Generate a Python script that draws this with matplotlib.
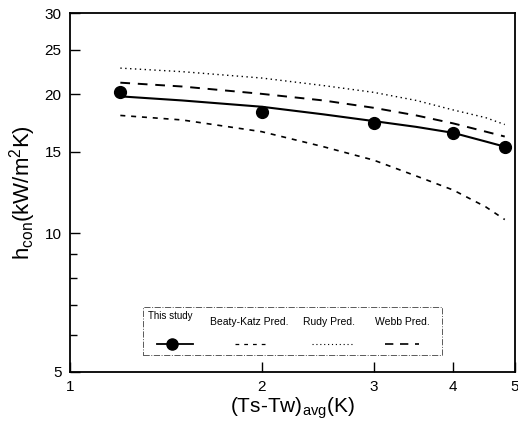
import matplotlib
matplotlib.use('Agg')
import matplotlib.pyplot as plt
from matplotlib.ticker import FixedLocator, NullFormatter, FixedFormatter
from matplotlib.patches import Rectangle

plt.rcParams['font.family'] = ['Liberation Sans', 'DejaVu Sans']
plt.rcParams['mathtext.default'] = 'regular'

# measured points (this study)
x_study = [1.2, 2.0, 3.0, 4.0, 4.83]
h_study = [20.2, 18.3, 17.3, 16.5, 15.4]

# curves
x_pred = [1.2, 1.5, 2.0, 2.5, 3.0, 3.5, 4.0, 4.5, 4.82]
h_fit = [19.8, 19.4, 18.8, 18.1, 17.5, 17.0, 16.5, 15.8, 15.4]
h_beaty = [18.0, 17.6, 16.6, 15.4, 14.4, 13.3, 12.4, 11.4, 10.7]
h_rudy = [22.8, 22.4, 21.7, 20.9, 20.2, 19.4, 18.5, 17.8, 17.2]
h_webb = [21.2, 20.8, 20.05, 19.4, 18.7, 18.0, 17.3, 16.6, 16.2]

xticks = [1, 2, 3, 4, 5]
yticks = [5, 10, 15, 20, 25, 30]
yminor = [6, 7, 8, 9]

fig = plt.figure(figsize=(5.18, 4.25), dpi=100)
ax = fig.add_axes([0.135, 0.125, 0.859, 0.844])

ax.set_xscale('log')
ax.set_yscale('log')
ax.set_xlim(1, 5)
ax.set_ylim(5, 30)

ax.plot(x_pred, h_fit, color='black', lw=1.5)
ax.plot(x_study, h_study, 'o', color='black', ms=8.5)
ax.plot(x_pred, h_beaty, color='black', lw=1.2, dashes=(3, 3.5))
ax.plot(x_pred, h_rudy, color='black', lw=1.0, dashes=(1, 2.5))
ax.plot(x_pred, h_webb, color='black', lw=1.4, dashes=(5, 4))

ax.xaxis.set_major_locator(FixedLocator(xticks))
ax.xaxis.set_major_formatter(FixedFormatter([str(t) for t in xticks]))
ax.xaxis.set_minor_locator(FixedLocator([]))
ax.yaxis.set_major_locator(FixedLocator(yticks))
ax.yaxis.set_major_formatter(FixedFormatter([str(t) for t in yticks]))
ax.yaxis.set_minor_locator(FixedLocator(yminor))
ax.yaxis.set_minor_formatter(NullFormatter())

ax.tick_params(which='major', direction='in', length=7, width=1, labelsize=11, pad=6)
ax.tick_params(which='minor', direction='in', length=5, width=1)
for s in ax.spines.values():
    s.set_linewidth(1.3)

ax.set_xlabel(r'(Ts-Tw)$_{avg}$(K)', fontsize=15, labelpad=1)
ax.set_ylabel(r'h$_{con}$(kW/m$^2$K)', fontsize=16, labelpad=5)

# legend box, labels above handles
tr = ax.transAxes
ax.add_patch(Rectangle((0.164, 0.047), 0.672, 0.134, transform=tr, fill=False,
                       lw=0.7, ls='-.', edgecolor='0.35'))
ax.text(0.176, 0.155, 'This study', transform=tr, fontsize=7, va='center')
ax.text(0.315, 0.138, 'Beaty-Katz Pred.', transform=tr, fontsize=7.5, va='center')
ax.text(0.524, 0.138, 'Rudy Pred.', transform=tr, fontsize=7.5, va='center')
ax.text(0.686, 0.138, 'Webb Pred.', transform=tr, fontsize=7.5, va='center')
hy = 0.078
ax.plot([0.196, 0.276], [hy, hy], color='black', lw=1.3, transform=tr)
ax.plot([0.229], [hy], 'o', color='black', ms=8, transform=tr)
ax.plot([0.371, 0.445], [hy, hy], color='black', lw=0.9, dashes=(3, 4), transform=tr)
ax.plot([0.544, 0.636], [hy, hy], color='black', lw=0.8, dashes=(1, 2.5), transform=tr)
ax.plot([0.708, 0.784], [hy, hy], color='black', lw=1.2, dashes=(5, 4), transform=tr)

plt.savefig('out.png', dpi=100)
